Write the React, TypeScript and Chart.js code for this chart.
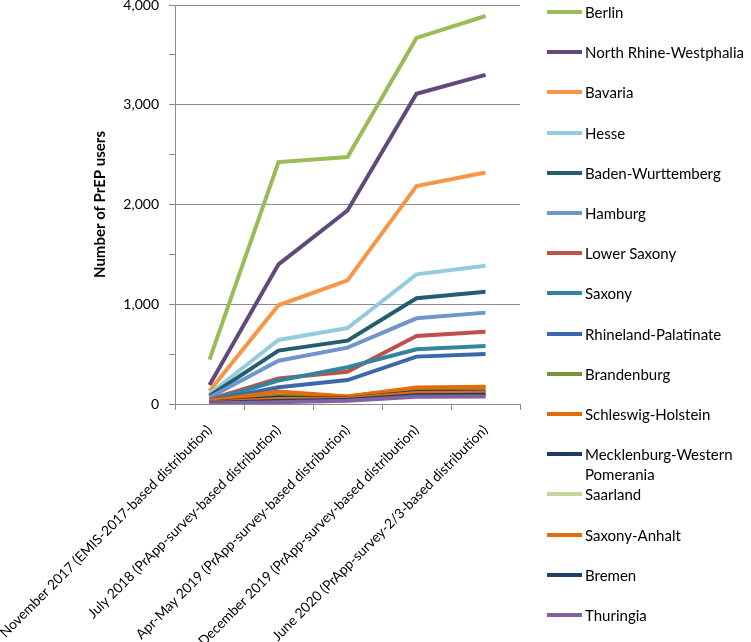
import React, { useEffect, useRef } from "react";
import { Chart, registerables } from "chart.js";

Chart.register(...registerables);

const categories = [
  "November 2017 (EMIS-2017-based distribution)",
  "July 2018 (PrApp-survey-based distribution)",
  "Apr-May 2019 (PrApp-survey-based distribution)",
  "December 2019 (PrApp-survey-based distribution)",
  "June 2020 (PrApp-survey-2/3-based distribution)",
];

const stateNames = [
  "Berlin",
  "North Rhine-Westphalia",
  "Bavaria",
  "Hesse",
  "Baden-Wurttemberg",
  "Hamburg",
  "Lower Saxony",
  "Saxony",
  "Rhineland-Palatinate",
  "Brandenburg",
  "Schleswig-Holstein",
  "Mecklenburg-Western Pomerania",
  "Saarland",
  "Saxony-Anhalt",
  "Bremen",
  "Thuringia",
];

const berlin = [445, 2425, 2475, 3670, 3890];
const northRhineWestphalia = [190, 1400, 1940, 3110, 3300];
const bavaria = [130, 990, 1240, 2185, 2320];
const hesse = [100, 642, 762, 1300, 1385];
const badenWurttemberg = [80, 535, 635, 1060, 1126];
const hamburg = [65, 434, 565, 859, 916];
const lowerSaxony = [45, 257, 324, 682, 725];
const saxony = [35, 234, 368, 548, 581];
const rhinelandPalatinate = [30, 167, 240, 475, 501];
const brandenburg = [20, 85, 75, 155, 165];
const schleswigHolstein = [30, 125, 75, 165, 172];
const mecklenburg = [15, 65, 55, 120, 125];
const saarland = [10, 35, 45, 100, 108];
const saxonyAnhalt = [15, 50, 55, 110, 115];
const bremen = [10, 30, 42, 88, 92];
const thuringia = [5, 18, 32, 72, 76];

const seriesValues = [
  berlin,
  northRhineWestphalia,
  bavaria,
  hesse,
  badenWurttemberg,
  hamburg,
  lowerSaxony,
  saxony,
  rhinelandPalatinate,
  brandenburg,
  schleswigHolstein,
  mecklenburg,
  saarland,
  saxonyAnhalt,
  bremen,
  thuringia,
];

const colors = [
  "#9BBB59",
  "#604A7B",
  "#F79646",
  "#93CDDD",
  "#215F6E",
  "#6F96CC",
  "#C0504D",
  "#31859C",
  "#3A68A8",
  "#77933C",
  "#E46C0A",
  "#1F3A60",
  "#C3D69B",
  "#E36C09",
  "#203F66",
  "#8064A2",
];

const yTicks = [0, 1000, 2000, 3000, 4000];

const FONT = "Lato, 'Open Sans', sans-serif";
const GRID = "#8C8C8C";

export default function App() {
  const canvasRef = useRef<HTMLCanvasElement | null>(null);

  useEffect(() => {
    if (!canvasRef.current) return;
    const chart = new Chart(canvasRef.current, {
      type: "line",
      data: {
        labels: categories,
        datasets: stateNames.map((name, i) => ({
          label: name,
          data: seriesValues[i],
          borderColor: colors[i],
          backgroundColor: colors[i],
          borderWidth: 4,
          pointRadius: 0,
          pointHoverRadius: 0,
          tension: 0,
          fill: false,
          order: -i,
        })),
      },
      options: {
        animation: false,
        responsive: false,
        maintainAspectRatio: false,
        layout: { padding: { left: 0, right: 231, top: 5, bottom: 0 } },
        plugins: {
          legend: { display: false },
          tooltip: { enabled: false },
        },
        scales: {
          x: {
            type: "category",
            offset: true,
            afterFit: (scale: any) => {
              scale.height = 238;
              scale.paddingLeft = 0;
              scale.paddingRight = 0;
            },
            grid: {
              display: true,
              drawOnChartArea: false,
              drawTicks: true,
              tickLength: 6,
              color: GRID,
              offset: true,
            },
            border: { display: true, color: GRID },
            ticks: {
              autoSkip: false,
              minRotation: 45,
              maxRotation: 45,
              color: "#000",
              font: { family: FONT, size: 13.8 },
              padding: 12,
            },
          },
          y: {
            min: 0,
            max: 4000,
            afterBuildTicks: (scale: any) => {
              const t: any[] = [];
              for (let v = 0; v <= 4000; v += 500) t.push({ value: v });
              scale.ticks = t;
            },
            afterFit: (scale: any) => {
              scale.width = 175;
              scale.paddingTop = 0;
              scale.paddingBottom = 0;
            },
            grid: {
              color: (ctx: any) =>
                yTicks.includes(ctx.tick?.value) ? GRID : "rgba(0,0,0,0)",
              tickColor: GRID,
              drawTicks: true,
              tickLength: 6,
            },
            border: { display: true, color: GRID },
            ticks: {
              color: "#000",
              font: { family: FONT, size: 14 },
              padding: 10,
              callback: (v: any) =>
                yTicks.includes(Number(v)) ? Number(v).toLocaleString("en-US") : "",
            },
            title: {
              display: true,
              text: "Number of PrEP users",
              color: "#000",
              font: { family: FONT, size: 15, weight: "bold" },
              padding: { top: 91, bottom: 0 },
            },
          },
        },
      },
    });
    return () => chart.destroy();
  }, []);

  return (
    <div style={{ position: "absolute", left: 0, top: 0, width: 751, height: 642 }}>
      <canvas ref={canvasRef} width={751} height={642} style={{ display: "block" }} />
      <div style={{ position: "absolute", left: 0, top: 0 }}>
        {stateNames.map((name, i) => (
          <div
            key={name}
            style={{
              position: "absolute",
              left: 547,
              top: 12 + 40.2 * i - 10,
              width: 204,
              display: "flex",
              alignItems: "flex-start",
              fontFamily: FONT,
              fontSize: 15,
              lineHeight: "20px",
              color: "#000",
            }}
          >
            <span
              style={{
                display: "inline-block",
                width: 35,
                height: 4,
                marginTop: 8,
                background: colors[i],
                flex: "0 0 auto",
              }}
            />
            <span style={{ marginLeft: 3, width: 166, whiteSpace: "normal" }}>{name}</span>
          </div>
        ))}
      </div>
    </div>
  );
}
